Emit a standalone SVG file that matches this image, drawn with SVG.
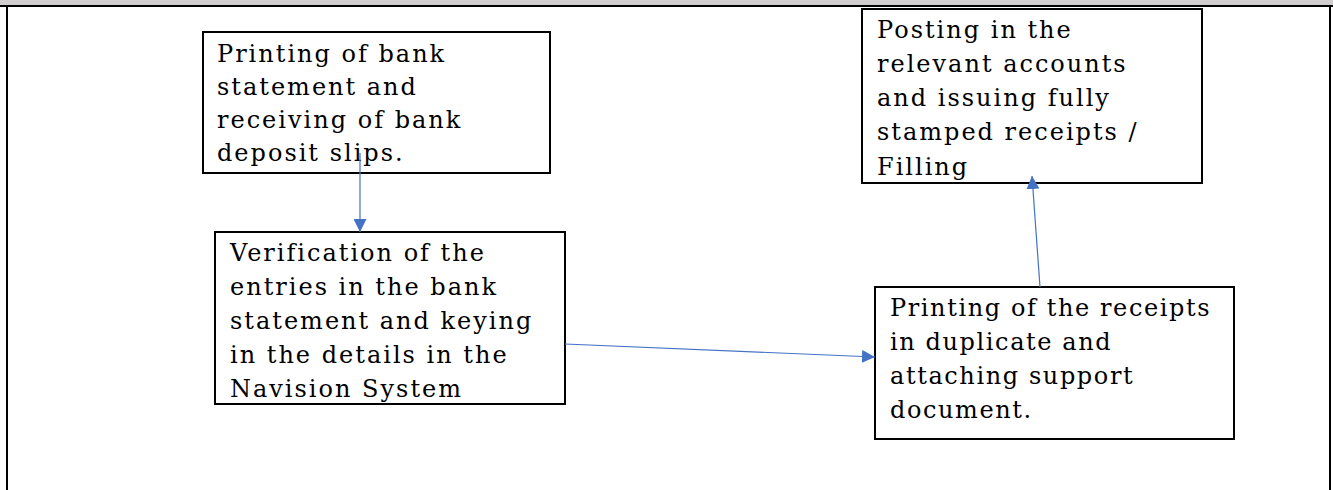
<svg xmlns="http://www.w3.org/2000/svg" width="1333" height="490" viewBox="0 0 1333 490">
<defs>
<style>
.box{fill:#fff;stroke:#000;stroke-width:2}
.t{font-family:"DejaVu Serif","Liberation Serif",serif;font-size:24px;letter-spacing:2px;fill:#000}
.t4{letter-spacing:1.6px}
.c{stroke:#4472C4;stroke-width:1.2;fill:none;marker-end:url(#ah)}
</style>
<marker id="ah" viewBox="0 0 10 10" refX="10" refY="5" markerWidth="13" markerHeight="13" markerUnits="userSpaceOnUse" orient="auto">
<path d="M0,0 L10,5 L0,10 z" fill="#4472C4"/>
</marker>
</defs>
<rect x="0" y="0" width="1333" height="490" fill="#fff"/>
<g id="frame">
<rect x="0" y="0" width="1333" height="6" fill="#d0cece"/>
<line x1="0" y1="6" x2="1333" y2="6" stroke="#000" stroke-width="2"/>
<line x1="7" y1="6" x2="7" y2="490" stroke="#000" stroke-width="2"/>
<line x1="1330" y1="6" x2="1330" y2="490" stroke="#000" stroke-width="2"/>
</g>
<g id="n1">
<rect class="box" x="203" y="32" width="347" height="141"/>
<text class="t"><tspan x="217" y="62">Printing of bank</tspan><tspan x="217" y="95">statement and</tspan><tspan x="217" y="128">receiving of bank</tspan><tspan x="217" y="161">deposit slips.</tspan></text>
</g>
<g id="n2">
<rect class="box" x="215" y="232" width="350" height="172"/>
<text class="t"><tspan x="230" y="261">Verification of the</tspan><tspan x="230" y="295">entries in the bank</tspan><tspan x="230" y="329">statement and keying</tspan><tspan x="230" y="363">in the details in the</tspan><tspan x="230" y="397">Navision System</tspan></text>
</g>
<g id="n3">
<rect class="box" x="862" y="9" width="340" height="174"/>
<text class="t"><tspan x="877" y="38">Posting in the</tspan><tspan x="877" y="72">relevant accounts</tspan><tspan x="877" y="106">and issuing fully</tspan><tspan x="877" y="140">stamped receipts /</tspan><tspan x="877" y="175">Filling</tspan></text>
</g>
<g id="n4">
<rect class="box" x="875" y="287" width="359" height="152"/>
<text class="t t4"><tspan x="890" y="316">Printing of the receipts</tspan><tspan x="890" y="350">in duplicate and</tspan><tspan x="890" y="384">attaching support</tspan><tspan x="890" y="418">document.</tspan></text>
</g>
<g id="connectors">
<line class="c" x1="360" y1="153" x2="360" y2="232"/>
<line class="c" x1="565" y1="344" x2="875" y2="357"/>
<line class="c" x1="1040" y1="287" x2="1032" y2="176"/>
</g>
</svg>
